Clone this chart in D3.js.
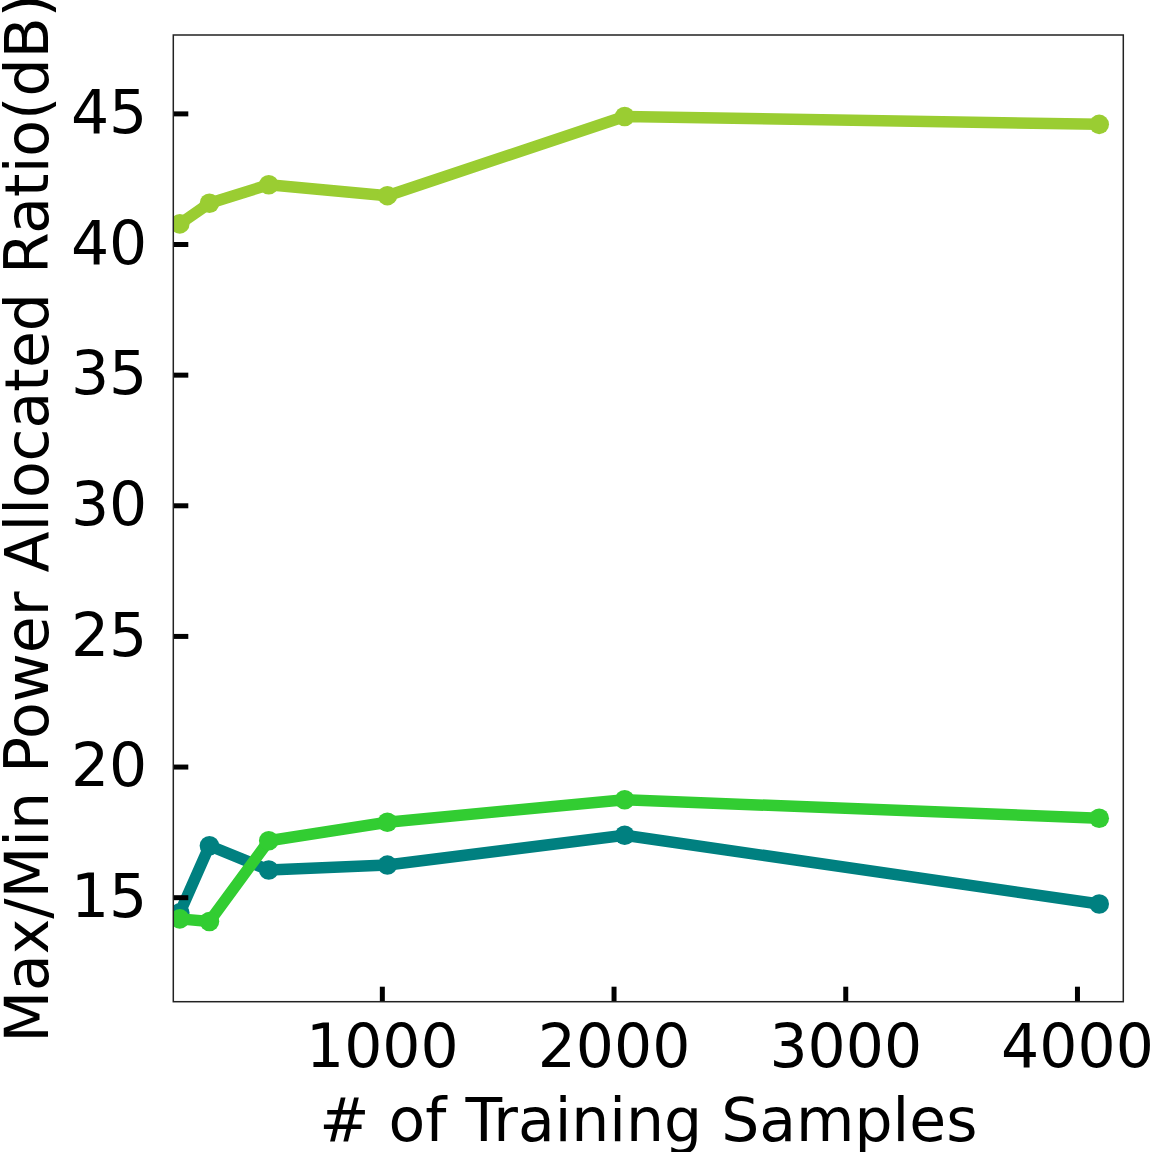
<!DOCTYPE html>
<html>
<head>
<meta charset="utf-8">
<script src="https://cdn.jsdelivr.net/npm/d3@7"></script>
<style>
  html, body { margin: 0; padding: 0; background: #fff; }
  svg { display: block; font-family: "DejaVu Sans", sans-serif; }
</style>
</head>
<body>
<svg id="chart" width="1152" height="1152"></svg>
<script>
// ---- data ----
const samples = [128, 256, 512, 1024, 2048, 4096];
const seriesTeal = [14.4, 16.97, 16.04, 16.23, 17.37, 14.74];
const seriesLime = [14.17, 14.07, 17.16, 17.87, 18.73, 18.02];
const seriesYellowGreen = [40.77, 41.56, 42.27, 41.85, 44.88, 44.58];
const xTicks = [1000, 2000, 3000, 4000];
const yTicks = [15, 20, 25, 30, 35, 40, 45];
const xLabel = "# of Training Samples";
const yLabel = "Max/Min Power Allocated Ratio(dB)";

const series = [
  { values: seriesTeal, color: "#008080" },
  { values: seriesLime, color: "#32cd32" },
  { values: seriesYellowGreen, color: "#9acd32" }
];

// ---- layout ----
const L = 173.3, R = 1123.3, T = 35, B = 1001.7;
const svg = d3.select("#chart");

const x = d3.scaleLinear().domain([100, 4200]).range([L, R]);
const y = d3.scaleLinear().domain([11, 48]).range([B, T]);

svg.append("defs").append("clipPath").attr("id", "clip")
  .append("rect").attr("x", L).attr("y", T).attr("width", R - L).attr("height", B - T);

const plot = svg.append("g").attr("clip-path", "url(#clip)");
const line = d3.line().x((d, i) => x(samples[i])).y(d => y(d));

series.forEach(s => {
  plot.append("path")
    .datum(s.values)
    .attr("d", line)
    .attr("fill", "none")
    .attr("stroke", s.color)
    .attr("stroke-width", 11.5)
    .attr("stroke-linejoin", "round")
    .attr("stroke-linecap", "butt");
  plot.selectAll(null)
    .data(s.values)
    .enter().append("circle")
    .attr("cx", (d, i) => x(samples[i]))
    .attr("cy", d => y(d))
    .attr("r", 9.8)
    .attr("fill", s.color);
});

// axes
const xAxis = d3.axisBottom(x).tickValues(xTicks).tickSize(-15).tickPadding(23)
  .tickFormat(d3.format("d"));
const gx = svg.append("g").attr("transform", `translate(0,${B})`).call(xAxis);
const yAxis = d3.axisLeft(y).tickValues(yTicks).tickSize(-15).tickPadding(26)
  .tickFormat(d3.format("d"));
const gy = svg.append("g").attr("transform", `translate(${L},0)`).call(yAxis);

[gx, gy].forEach(g => {
  g.select(".domain").remove();
  g.selectAll(".tick line").attr("stroke", "#000").attr("stroke-width", 5);
  g.selectAll(".tick text").attr("fill", "#000")
    .style("font-family", "'DejaVu Sans', sans-serif")
    .style("font-size", "60px");
});

// frame
svg.append("rect")
  .attr("x", L).attr("y", T).attr("width", R - L).attr("height", B - T)
  .attr("fill", "none").attr("stroke", "#222").attr("stroke-width", 1.5);

// labels
svg.append("text")
  .attr("x", (L + R) / 2).attr("y", 1141)
  .attr("text-anchor", "middle")
  .style("font-size", "60px")
  .attr("fill", "#000")
  .text(xLabel);

svg.append("text")
  .attr("transform", `translate(48,${(T + B) / 2}) rotate(-90)`)
  .attr("text-anchor", "middle")
  .style("font-size", "60px")
  .attr("fill", "#000")
  .text(yLabel);
</script>
</body>
</html>
